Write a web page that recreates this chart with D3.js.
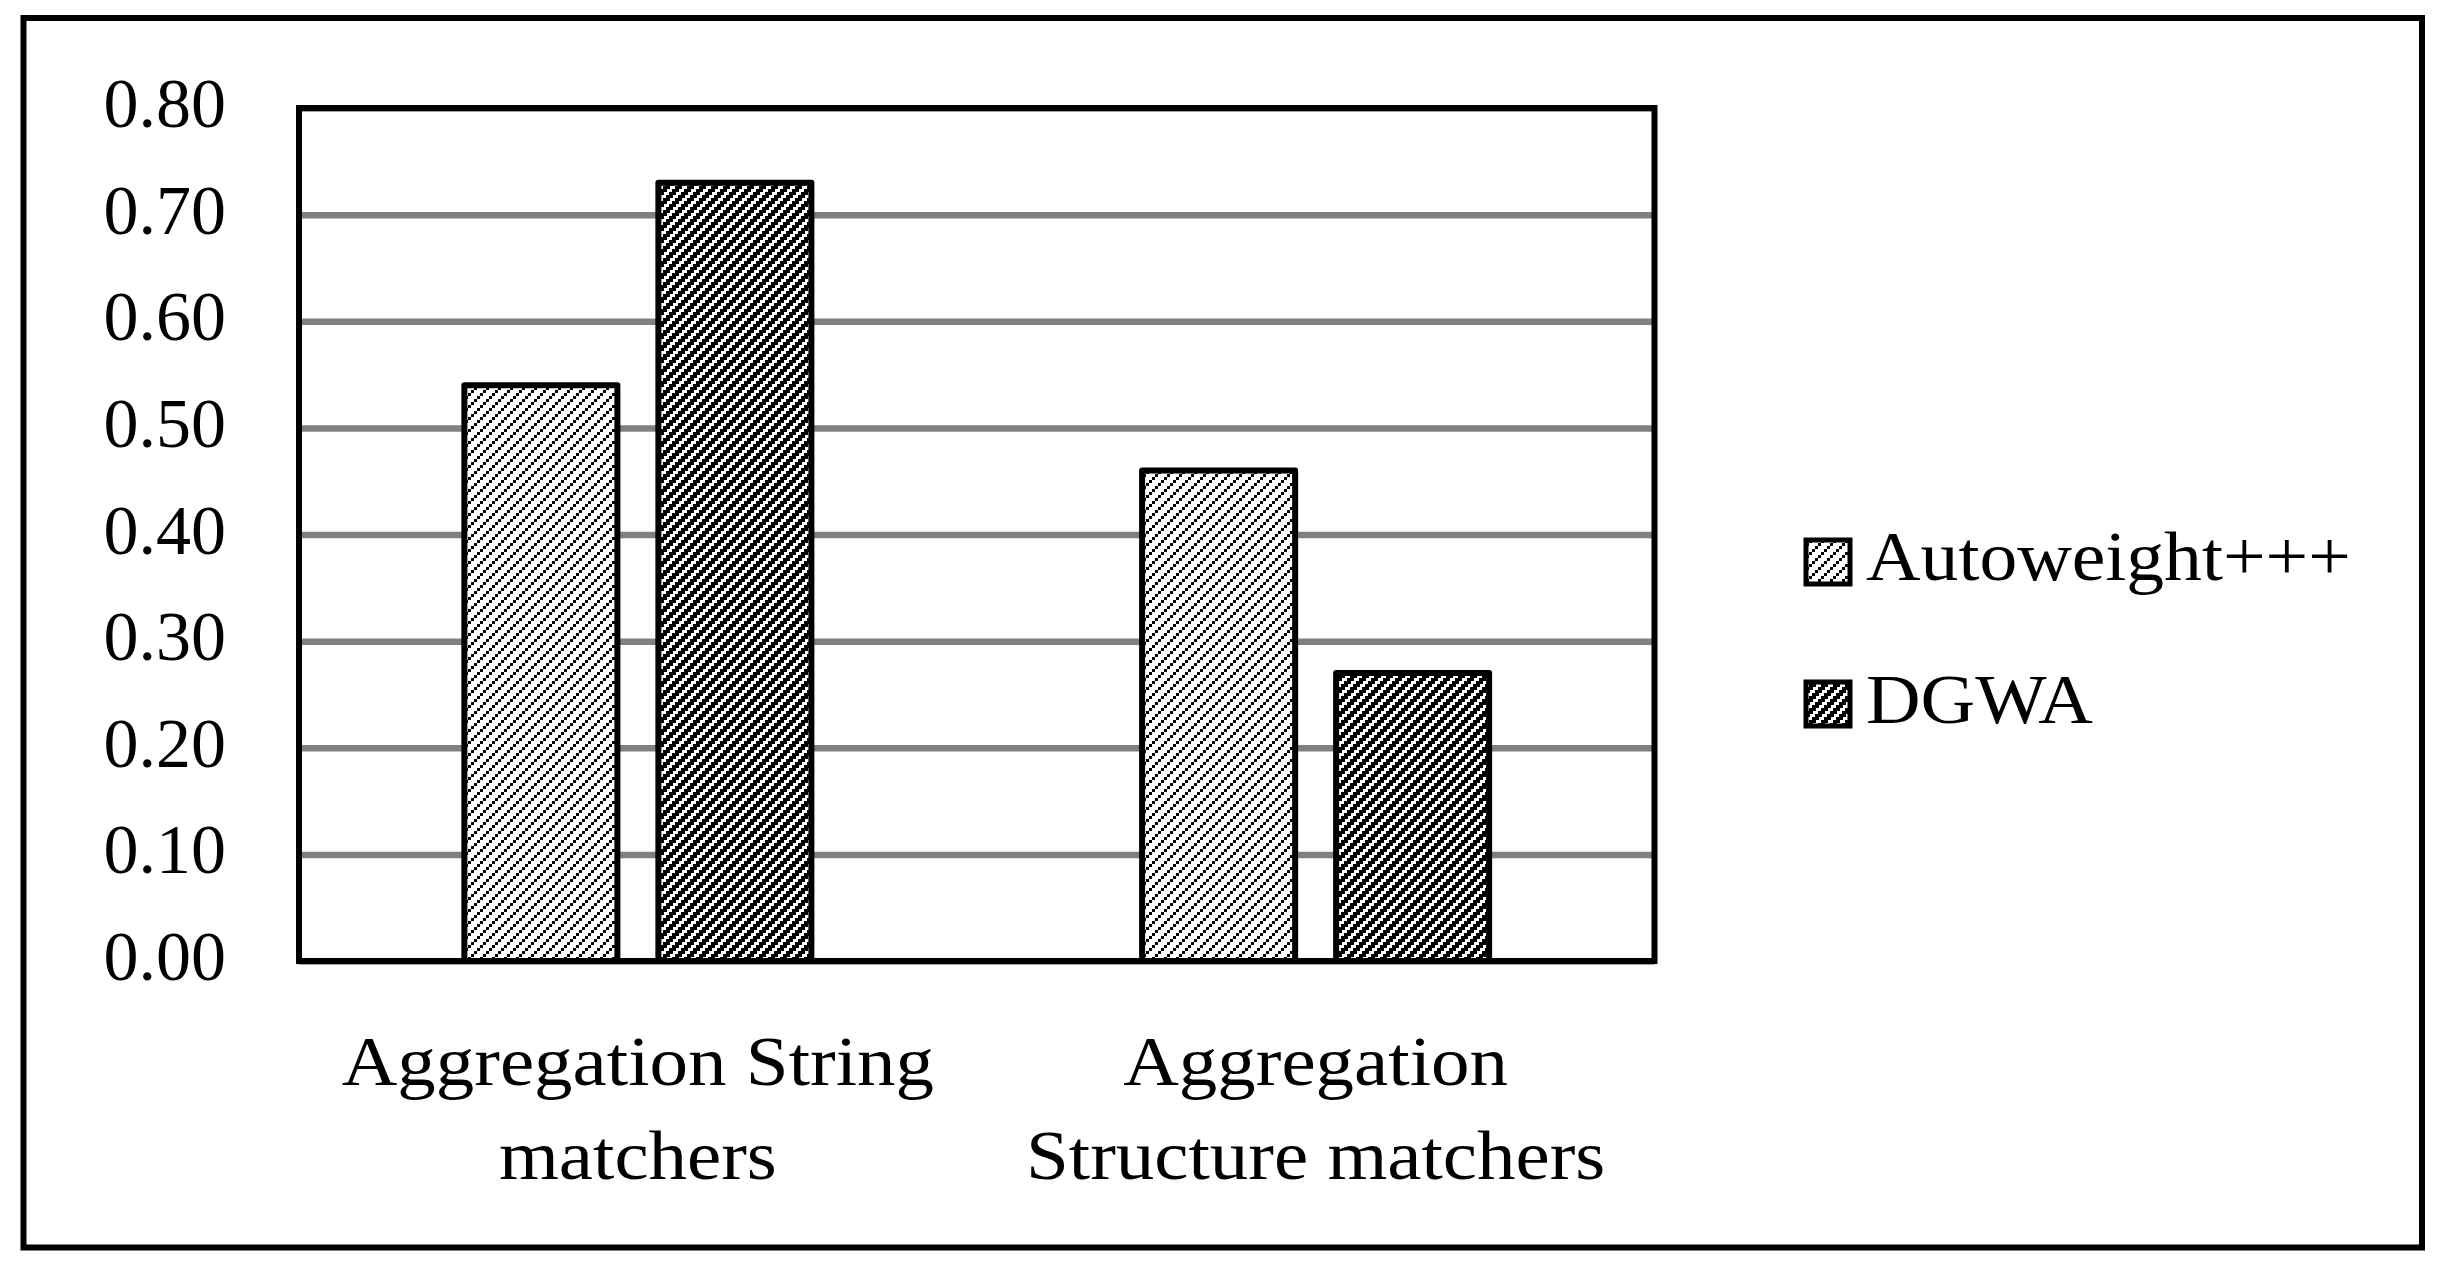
<!DOCTYPE html>
<html>
<head>
<meta charset="utf-8">
<script src="https://cdn.jsdelivr.net/npm/d3@7"></script>
<style>
  html, body { margin: 0; padding: 0; background: #ffffff; }
  svg { display: block; }
  text { font-family: "Liberation Serif", "Times New Roman", serif; fill: #000; }
</style>
</head>
<body>
<svg id="chart" width="2445" height="1268"></svg>
<script>
// ---- data ----
const categories = ["Aggregation String matchers", "Aggregation Structure matchers"];
const categoryLines = [["Aggregation String", "matchers"], ["Aggregation", "Structure matchers"]];
const seriesNames = ["Autoweight+++", "DGWA"];
const autoweightValues = [0.54, 0.46];
const dgwaValues = [0.73, 0.27];
const yTicks = [0.00, 0.10, 0.20, 0.30, 0.40, 0.50, 0.60, 0.70, 0.80];
const yTickLabels = ["0.00", "0.10", "0.20", "0.30", "0.40", "0.50", "0.60", "0.70", "0.80"];

const seriesValues = [autoweightValues, dgwaValues];
const patternIds = ["patLight", "patDark"];

// ---- layout ----
const W = 2445, H = 1268;
const plot = { left: 299, right: 1654.5, top: 108, bottom: 961 };
const fontSize = 70;
const svg = d3.select("#chart");

// patterns: upward diagonal stair-stepped stripes
const P = 12, step = 3;
const defs = svg.append("defs");
function makePattern(id, runWidth) {
  const p = defs.append("pattern").attr("id", id).attr("patternUnits", "userSpaceOnUse")
    .attr("width", P).attr("height", P);
  p.append("rect").attr("width", P).attr("height", P).attr("fill", "#fff");
  for (let k = 0; k < P / step; k++) {
    const yy = P - step * (k + 1);
    const xx = step * k;
    // main run, with wrap-around
    const end = xx + runWidth;
    p.append("rect").attr("x", xx).attr("y", yy).attr("width", Math.min(end, P) - xx).attr("height", step).attr("fill", "#000");
    if (end > P) {
      p.append("rect").attr("x", 0).attr("y", yy).attr("width", end - P).attr("height", step).attr("fill", "#000");
    }
  }
}
makePattern("patLight", 3);
makePattern("patDark", 7);

// background + outer border
svg.append("rect").attr("width", W).attr("height", H).attr("fill", "#fff");
svg.append("rect").attr("x", 23.5).attr("y", 18).attr("width", 2422 - 23.5).attr("height", 1247.5 - 18)
  .attr("fill", "none").attr("stroke", "#000").attr("stroke-width", 6);

// scales
const y = d3.scaleLinear().domain([0, 0.8]).range([plot.bottom, plot.top]);
const x0 = d3.scaleBand().domain(categories).range([plot.left, plot.right]).paddingInner(0).paddingOuter(0);
const groupFrac = 0.512;
const x1 = d3.scaleBand().domain(seriesNames).range([0, x0.bandwidth() * groupFrac]).paddingInner(0.2113).paddingOuter(0);

// gridlines via axis
const yAxis = d3.axisLeft(y).tickValues(yTicks).tickSize(-(plot.right - plot.left)).tickFormat("");
const gGrid = svg.append("g").attr("transform", `translate(${plot.left},0)`).call(yAxis);
gGrid.select(".domain").remove();
gGrid.selectAll(".tick line").attr("stroke", "#808080").attr("stroke-width", 6.5);

// tick labels
svg.append("g").selectAll("text").data(yTicks).join("text")
  .attr("x", 226).attr("y", (d) => y(d) + 19)
  .attr("text-anchor", "end").attr("font-size", fontSize)
  .text((d, i) => yTickLabels[i]);

// bars
const groupOffset = (x0.bandwidth() - x0.bandwidth() * groupFrac) / 2;
seriesNames.forEach((s, si) => {
  svg.append("g").selectAll("rect").data(seriesValues[si]).join("rect")
    .attr("x", (d, i) => x0(categories[i]) + groupOffset + x1(s))
    .attr("y", (d) => y(d))
    .attr("width", x1.bandwidth())
    .attr("height", (d) => y(0) - y(d))
    .attr("fill", `url(#${patternIds[si]})`)
    .attr("stroke", "#000").attr("stroke-width", 6).attr("stroke-linejoin", "round");
});

// plot frame
svg.append("rect").attr("x", plot.left).attr("y", plot.top)
  .attr("width", plot.right - plot.left).attr("height", plot.bottom - plot.top)
  .attr("fill", "none").attr("stroke", "#000").attr("stroke-width", 6);

// category labels
const catStretch = 1.1;
const lineBaselines = [1085, 1179];
categories.forEach((c, i) => {
  const cx = x0(c) + x0.bandwidth() / 2;
  categoryLines[i].forEach((line, li) => {
    svg.append("text")
      .attr("transform", `translate(${cx},${lineBaselines[li]}) scale(${catStretch},1)`)
      .attr("text-anchor", "middle").attr("font-size", fontSize)
      .text(line);
  });
});

// legend
const legStretch = 1.08;
const legendRows = [{ top: 540, base: 580 }, { top: 682, base: 723 }];
seriesNames.forEach((s, si) => {
  const r = legendRows[si];
  svg.append("rect").attr("x", 1806).attr("y", r.top).attr("width", 44).attr("height", 44)
    .attr("fill", `url(#${patternIds[si]})`).attr("stroke", "#000").attr("stroke-width", 5);
  svg.append("text")
    .attr("transform", `translate(1866,${r.base}) scale(${legStretch},1)`)
    .attr("font-size", fontSize).text(s);
});
</script>
</body>
</html>
